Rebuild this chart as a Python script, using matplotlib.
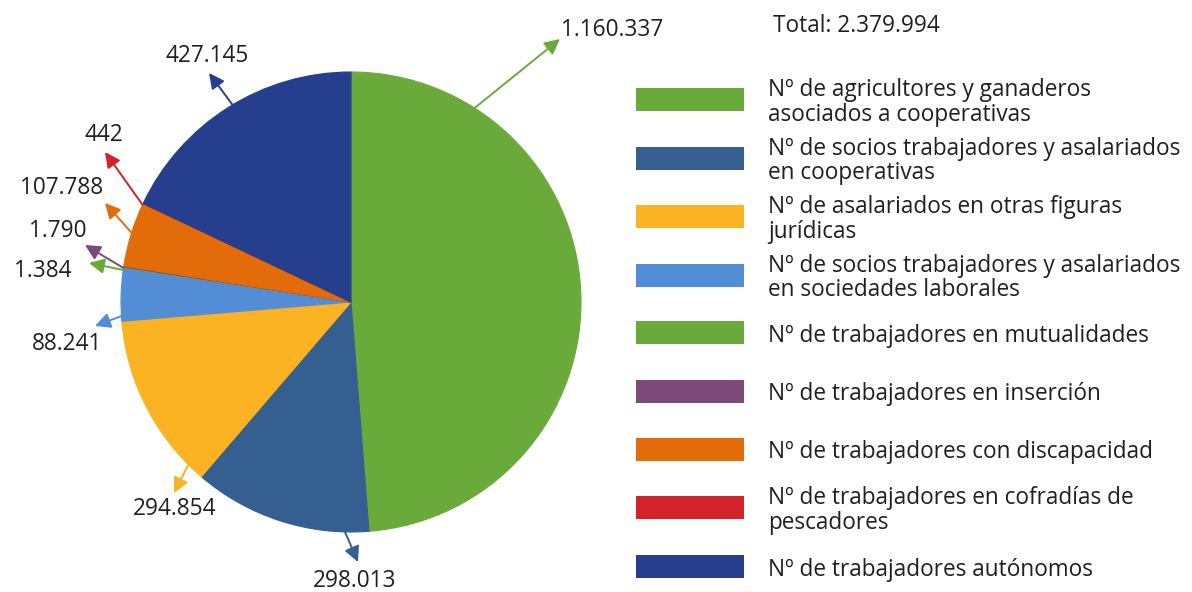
import numpy as np
import matplotlib.pyplot as plt
from matplotlib.patches import Rectangle

plt.rcParams['font.family'] = ['Open Sans', 'DejaVu Sans']

# Data
labels = [
    "Nº de agricultores y ganaderos\nasociados a cooperativas",
    "Nº de socios trabajadores y asalariados\nen cooperativas",
    "Nº de asalariados en otras figuras\njurídicas",
    "Nº de socios trabajadores y asalariados\nen sociedades laborales",
    "Nº de trabajadores en mutualidades",
    "Nº de trabajadores en inserción",
    "Nº de trabajadores con discapacidad",
    "Nº de trabajadores en cofradías de\npescadores",
    "Nº de trabajadores autónomos",
]
values = [1160337, 298013, 294854, 88241, 1384, 1790, 107788, 442, 427145]
value_labels = ["1.160.337", "298.013", "294.854", "88.241", "1.384", "1.790",
                "107.788", "442", "427.145"]
colors = ["#6AAA3A", "#355F91", "#FBB323", "#538DD5", "#6AAA3A", "#7D4A7A",
          "#E36C0A", "#D2232A", "#253F8E"]
total_text = "Total: 2.379.994"

# layout in pixels (y measured from top)
W, H = 1192, 592
cx, cy, r = 351, 302, 230
# angle (deg, ccw from +x) where each leader line leaves the pie, arrow tip, label centre
anchor_ang = [57.5, 268.5, 225.0, 183.5, 172.0, 171.5, 162.5, 155.0, 121.0]
arrow_tip = [(560, 39), (358, 562), (174, 493), (95, 326), (89, 263),
             (85, 245), (105, 203), (105, 152), (209, 73)]
label_pos = [(612, 27), (355, 578), (175, 506), (67, 341), (43, 268),
             (58, 228), (62, 185), (104, 132), (207, 53)]
fs = 16.3
txt_color = '#231F20'
dy = 3  # Open Sans sits a little high with va='center'

fig = plt.figure(figsize=(W / 100, H / 100), dpi=100)
ax = fig.add_axes([0, 0, 1, 1])

def py(y):
    return H - y

wedges, _ = ax.pie(values, colors=colors, startangle=90, counterclock=False,
                   center=(cx, py(cy)), radius=r, frame=True,
                   wedgeprops=dict(linewidth=0.8))
for w, c in zip(wedges, colors):
    w.set_edgecolor(c)
ax.set_xlim(0, W)
ax.set_ylim(0, H)
ax.set_aspect('equal')
ax.axis('off')

for i, txt in enumerate(value_labels):
    a = np.deg2rad(anchor_ang[i])
    sx, sy = cx + r * np.cos(a), py(cy) + r * np.sin(a)
    tx, ty = arrow_tip[i]
    ax.annotate("", xy=(tx, py(ty)), xytext=(sx, sy),
                arrowprops=dict(arrowstyle='-|>', color=colors[i], lw=1.4,
                                mutation_scale=23, shrinkA=0, shrinkB=0))
    lx, ly = label_pos[i]
    ax.text(lx, py(ly + dy), txt, ha='center', va='center', fontsize=fs, color=txt_color)

ax.text(856, py(23 + dy), total_text, ha='center', va='center', fontsize=fs, color=txt_color)

# legend
leg_y = [99.5, 158, 216.5, 275, 332.5, 391.5, 449.5, 507.5, 566.5]
for lab, c, y in zip(labels, colors, leg_y):
    ax.add_patch(Rectangle((636, py(y) - 11.5), 108, 23, facecolor=c, edgecolor='none'))
    ax.text(768, py(y + dy), lab, ha='left', va='center', fontsize=fs, color=txt_color,
            linespacing=1.05)

fig.savefig("out.png", dpi=100)
